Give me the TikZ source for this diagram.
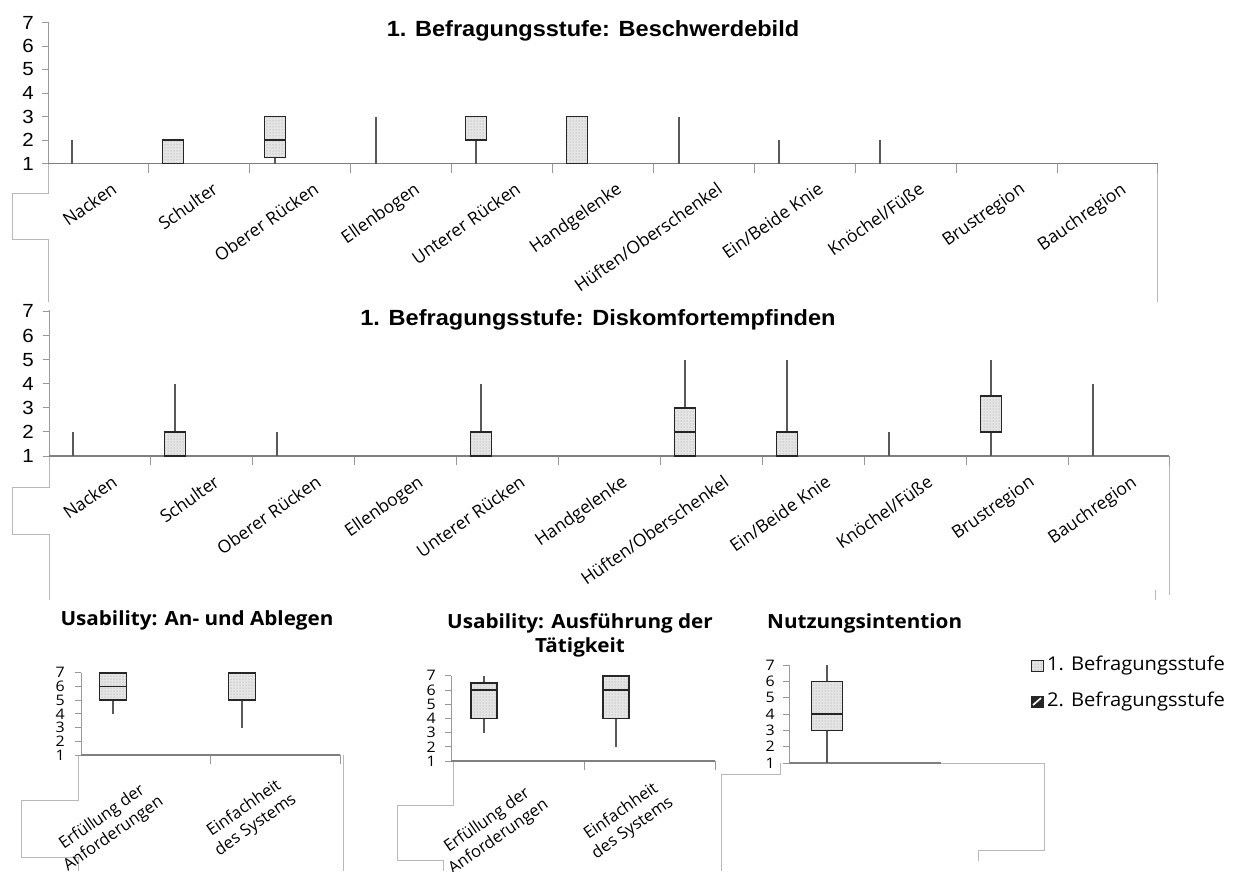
\documentclass[tikz,border=0pt]{standalone}
\usepackage{fontspec}
\usetikzlibrary{patterns}
\newfontfamily\arialF{Liberation Sans}
\newfontfamily\osR{Open Sans}
% box plot: x, ybase, unit, min, q1, median, q3, max, half width
\newcommand\bxp[9]{%
  \draw[whisk] (#1,{#2-(#4-1)*#3}) -- (#1,{#2-(#8-1)*#3});
  \draw[boxst] ({#1-#9},{#2-(#5-1)*#3}) rectangle ({#1+#9},{#2-(#7-1)*#3});
  \draw[medst] ({#1-#9},{#2-(#6-1)*#3}) -- ({#1+#9},{#2-(#6-1)*#3});
}
\newcommand\wsk[5]{\draw[whisk] (#1,{#2-(#4-1)*#3}) -- (#1,{#2-(#5-1)*#3});}
\begin{document}
\begin{tikzpicture}[x=1pt,y=-1pt,
  whisk/.style={draw=black!65, line width=1.2pt},
  boxst/.style={draw=black!85, line width=1.5pt, preaction={fill=black!10}, pattern=dots, pattern color=black!40},
  medst/.style={draw=black!85, line width=1.5pt},
  yax/.style={draw=black!40, line width=1pt},
  xax/.style={draw=black!50, line width=1.6pt},
  tickst/.style={draw=black!40, line width=1pt},
  frame/.style={draw=black!28, line width=1pt},
  ttlA/.style={font=\arialF\bfseries\fontsize{22}{26}\selectfont, inner sep=0pt, xscale=1.07},
  digA/.style={font=\arialF\fontsize{19}{21}\selectfont, anchor=east, inner sep=0pt, xscale=1.08},
  lbl/.style={font=\osR\fontsize{17.5}{20}\selectfont, anchor=north east, rotate=35, inner sep=0pt},
  lbltwo/.style={font=\osR\fontsize{16.5}{20}\selectfont, rotate=35, inner sep=0pt, align=center},
  ttlB/.style={font=\osR\bfseries\fontsize{19.5}{24}\selectfont, inner sep=0pt, xscale=1.06},
  digB/.style={font=\osR\fontsize{14.5}{15}\selectfont, anchor=east, inner sep=0pt, xscale=1.1},
  leg/.style={font=\osR\fontsize{19}{22}\selectfont, anchor=west, inner sep=0pt, xscale=1.06}
]
\useasboundingbox (0,0) rectangle (1238,871);

% ---------- frame fragments ----------
\draw[frame] (48,163.5) -- (48,193) -- (12,193) -- (12,239) -- (48,239) -- (48,302);
\draw[frame] (1157,163.5) -- (1157,302);
\draw[frame] (49,456) -- (49,487) -- (12,487) -- (12,534) -- (49,534) -- (49,600);
\draw[frame] (1169,456) -- (1169,595);
\draw[frame] (1155,590) -- (1155,600);
\draw[frame] (78,755) -- (78,800) -- (21,800) -- (21,857) -- (78,857) -- (78,871);
\draw[frame] (343,755) -- (343,871);
\draw[frame] (453,761) -- (453,805) -- (397,805) -- (397,860) -- (443,860) -- (443,871);
\draw[frame] (721,871) -- (721,774) -- (780,774) -- (780,763);
\draw[frame] (941,763) -- (1044,763) -- (1044,850) -- (978,850) -- (978,861);

% ---------- Chart 1 ----------
\node[ttlA] (t1) at (593,31) {1. Befragungsstufe: Beschwerdebild};
\draw[yax] (48,22) -- (48,163.5);
\foreach \v in {1,...,7} {
  \node[digA] (da\v) at (34,{163.5-(\v-1)*23.5}) {\v};
  \draw[tickst] (42,{163.5-(\v-1)*23.5}) -- (48,{163.5-(\v-1)*23.5});
}
\foreach \i in {1,...,11} \draw[tickst] ({48+\i*100.9},163.5) -- ++(0,9);
\draw[xax] (48,163.5) -- (1158,163.5);
\foreach \n [count=\i] in {Nacken,Schulter,Oberer Rücken,Ellenbogen,Unterer Rücken,Handgelenke,Hüften/Oberschenkel,Ein/Beide Knie,Knöchel/Füße,Brustregion,Bauchregion}
  \node[lbl] (la\i) at ({48+(\i-0.5)*100.9+12},181) {\n};
\wsk{72}{163.5}{23.5}{1}{2}
\bxp{173}{163.5}{23.5}{1}{1}{1}{2}{2}{10.5}
\bxp{275}{163.5}{23.5}{1}{1.25}{2}{3}{3}{10.5}
\wsk{376}{163.5}{23.5}{1}{3}
\bxp{476}{163.5}{23.5}{1}{2}{2}{3}{3}{10.5}
\bxp{577}{163.5}{23.5}{1}{1}{1}{3}{3}{10.5}
\wsk{679}{163.5}{23.5}{1}{3}
\wsk{779}{163.5}{23.5}{1}{2}
\wsk{880}{163.5}{23.5}{1}{2}

% ---------- Chart 2 ----------
\node[ttlA] (t2) at (598,320) {1. Befragungsstufe: Diskomfortempfinden};
\draw[yax] (49,310) -- (49,456);
\foreach \v in {1,...,7} {
  \node[digA] (db\v) at (34,{456-(\v-1)*24.1}) {\v};
  \draw[tickst] (43,{456-(\v-1)*24.1}) -- (49,{456-(\v-1)*24.1});
}
\foreach \i in {1,...,11} \draw[tickst] ({49+\i*101.9},456) -- ++(0,9);
\draw[xax] (49,456) -- (1169,456);
\foreach \n [count=\i] in {Nacken,Schulter,Oberer Rücken,Ellenbogen,Unterer Rücken,Handgelenke,Hüften/Oberschenkel,Ein/Beide Knie,Knöchel/Füße,Brustregion,Bauchregion}
  \node[lbl] (lb\i) at ({49+(\i-0.5)*101.9+11},474) {\n};
\wsk{73}{456}{24.1}{1}{2}
\bxp{175}{456}{24.1}{1}{1}{1}{2}{4}{10.5}
\wsk{277}{456}{24.1}{1}{2}
\bxp{481}{456}{24.1}{1}{1}{1}{2}{4}{10.5}
\bxp{685}{456}{24.1}{1}{1}{2}{3}{5}{10.5}
\bxp{787}{456}{24.1}{1}{1}{1}{2}{5}{10.5}
\wsk{889}{456}{24.1}{1}{2}
\bxp{991}{456}{24.1}{1}{2}{2}{3.5}{5}{10.5}
\wsk{1093}{456}{24.1}{1}{4}

% ---------- Chart 3 ----------
\node[ttlB] (t3) at (197,620) {Usability: An- und Ablegen};
\draw[yax] (81,673) -- (81,755);
\foreach \v in {1,...,7} {
  \node[digB] (dc\v) at (65,{755-(\v-1)*13.7}) {\v};
  \draw[tickst] (75,{755-(\v-1)*13.7}) -- (81,{755-(\v-1)*13.7});
}
\draw[tickst] (210,755) -- ++(0,9);
\draw[tickst] (340,755) -- ++(0,9);
\draw[xax] (81,755) -- (340,755);
\bxp{113}{755}{13.7}{4}{5}{6}{7}{7}{13.5}
\bxp{242}{755}{13.7}{3}{5}{5}{7}{7}{13.5}
\node[lbltwo] (lc1) at (108,826) {Erfüllung der\\Anforderungen};
\node[lbltwo] (lc2) at (250,817) {Einfachheit\\des Systems};

% ---------- Chart 4 ----------
\node[ttlB, align=center] (t4) at (580,635) {Usability: Ausführung der\\Tätigkeit};
\draw[yax] (451,676) -- (451,761);
\foreach \v in {1,...,7} {
  \node[digB] (dd\v) at (436,{761-(\v-1)*14.2}) {\v};
  \draw[tickst] (445,{761-(\v-1)*14.2}) -- (451,{761-(\v-1)*14.2});
}
\draw[tickst] (584,761) -- ++(0,9);
\draw[tickst] (715,761) -- ++(0,9);
\draw[xax] (451,761) -- (715,761);
\bxp{484}{761}{14.2}{3}{4}{6}{6.5}{7}{13}
\bxp{616}{761}{14.2}{2}{4}{6}{7}{7}{13}
\node[lbltwo] (ld1) at (493,829) {Erfüllung der\\Anforderungen};
\node[lbltwo] (ld2) at (627,820) {Einfachheit\\des Systems};

% ---------- Chart 5 ----------
\node[ttlB, anchor=west] (t5) at (767,623) {Nutzungsintention};
\draw[yax] (789,665) -- (789,763);
\foreach \v in {1,...,7} {
  \node[digB] (de\v) at (775,{763-(\v-1)*16.3}) {\v};
  \draw[tickst] (783,{763-(\v-1)*16.3}) -- (789,{763-(\v-1)*16.3});
}
\draw[xax] (789,763) -- (941,763);
\bxp{827}{763}{16.3}{1}{3}{4}{6}{7}{15.5}

% ---------- Legend ----------
\draw[draw=black!85, line width=1pt, preaction={fill=black!10}, pattern=dots, pattern color=black!50] (1031,660) rectangle (1043,671);
\node[leg] (g1) at (1047,665.5) {1. Befragungsstufe};
\fill[black!85] (1031,696) rectangle (1043,707);
\draw[white, line width=1.6pt] (1033,705) -- (1041,698);
\draw[black!85, line width=1pt] (1031,696) rectangle (1043,707);
\node[leg] (g2) at (1047,701.5) {2. Befragungsstufe};
\end{tikzpicture}
\end{document}
